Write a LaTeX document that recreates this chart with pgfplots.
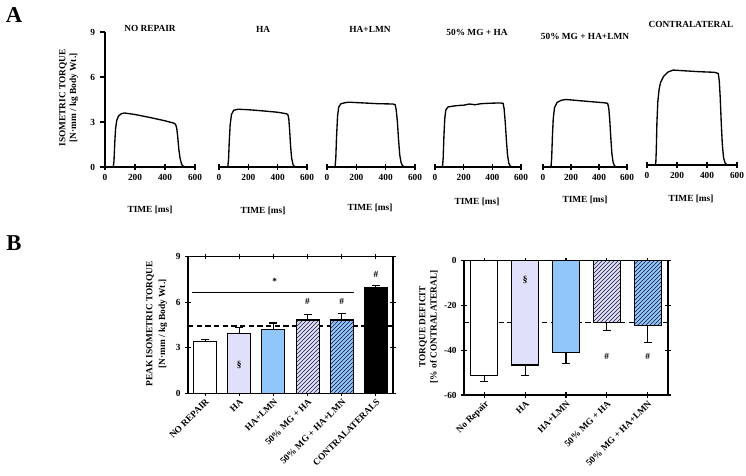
\documentclass[border=0pt]{standalone}
\usepackage{fontspec}
\setmainfont{Liberation Serif}
\usepackage{pgfplots}
\pgfplotsset{compat=1.18}
\usetikzlibrary{patterns}
\definecolor{lav}{RGB}{224,224,250}
\definecolor{lblue}{RGB}{145,198,250}
\definecolor{hatchc}{RGB}{25,25,60}
\newcommand{\lbl}{\bfseries\fontsize{7}{8}\selectfont}
\pgfplotsset{
  trace/.style={
    scale only axis, height=101.25pt,
    xmin=0, xmax=600, ymin=0, ymax=9,
    axis x line=bottom,
    axis line style={-, line width=1pt, black},
    every outer x axis line/.append style={-},
    every outer y axis line/.append style={-},
    xtick={0,200,400,600}, tick align=center, major tick length=4pt,
    every tick/.style={black, line width=0.8pt},
    tick label style={font=\lbl},
    /pgf/number format/assume math mode=true,
    clip=false,
  },
  curve/.style={black, line width=1pt, line join=round, mark=none},
  barax/.style={
    scale only axis,
    axis line style={line width=1pt, black},
    tick align=center, major tick length=4pt,
    every tick/.style={black, line width=0.8pt},
    tick label style={font=\lbl},
    xticklabel style={rotate=45, anchor=north east, inner sep=1pt},
    /pgf/number format/assume math mode=true,
    clip=false,
  },
  errs/.style={draw=none, mark=none, forget plot, error bars/y explicit,
    error bars/error bar style={draw=black, line width=0.8pt},
    error bars/error mark options={draw=black, rotate=90, mark size=3pt, line width=0.8pt}},
}
\begin{document}
\begin{tikzpicture}[x=0.75pt,y=0.75pt]
\path[use as bounding box] (0,0) rectangle (746,475);
\coordinate (A1) at (105,308);
\coordinate (A2) at (219,308);
\coordinate (A3) at (327,308);
\coordinate (A4) at (435,308);
\coordinate (A5) at (543,308);
\coordinate (A6) at (647,310);
\coordinate (B1) at (188,81.7);
\coordinate (B2) at (464,80);
% panel letters
\node[font=\bfseries\fontsize{17}{17}\selectfont] at (14,460) {A};
\node[font=\bfseries\fontsize{17}{17}\selectfont] at (14,232) {B};

% ---------- Panel A ----------
\begin{axis}[trace, width=67.5pt, at={(A1)}, anchor=south west,
  axis y line=left, ytick={0,3,6,9}, ytick align=outside,
  y axis line style={-}, x axis line style={-}]
\addplot[curve] coordinates {(0,0) (55,0) (60,0.4) (65,1.6) (70,2.5) (78,3.1) (90,3.4) (110,3.56) (130,3.6) (200,3.5) (300,3.3) (400,3.08) (460,2.92) (470,2.85) (478,2.6) (485,2.0) (492,1.2) (500,0.6) (510,0.2) (520,0.05) (540,0) (600,0)};
\end{axis}
\begin{axis}[trace, axis y line=none, width=66pt, at={(A2)}, anchor=south west]
\addplot[curve] coordinates {(0,0) (60,0) (65,0.5) (70,1.7) (76,2.8) (85,3.5) (100,3.78) (130,3.85) (200,3.82) (300,3.74) (400,3.65) (460,3.55) (470,3.48) (476,3.2) (482,2.4) (488,1.4) (495,0.6) (505,0.15) (515,0.03) (530,0) (600,0)};
\end{axis}
\begin{axis}[trace, axis y line=none, width=66pt, at={(A3)}, anchor=south west]
\addplot[curve] coordinates {(0,0) (55,0) (60,0.6) (65,2.0) (72,3.4) (80,4.0) (95,4.22) (130,4.3) (150,4.32) (250,4.27) (350,4.22) (450,4.2) (465,4.15) (472,3.8) (480,3.0) (488,1.8) (496,0.8) (505,0.3) (515,0.08) (530,0) (600,0)};
\end{axis}
\begin{axis}[trace, axis y line=none, width=64.5pt, at={(A4)}, anchor=south west]
\addplot[curve] coordinates {(0,0) (52,0) (57,0.6) (62,2.0) (68,3.2) (75,3.8) (90,4.0) (120,4.05) (160,4.1) (200,4.12) (240,4.2) (280,4.15) (320,4.22) (380,4.25) (450,4.27) (475,4.25) (482,3.9) (490,3.0) (498,1.8) (506,0.8) (515,0.25) (525,0.05) (540,0) (600,0)};
\end{axis}
\begin{axis}[trace, axis y line=none, width=63pt, at={(A5)}, anchor=south west]
\addplot[curve] coordinates {(0,0) (57,0) (62,0.6) (67,2.0) (73,3.2) (82,3.95) (100,4.3) (130,4.45) (165,4.5) (250,4.43) (350,4.35) (440,4.28) (462,4.24) (470,3.9) (477,3.1) (484,2.0) (492,0.9) (500,0.35) (510,0.08) (525,0) (600,0)};
\end{axis}
\begin{axis}[trace, axis y line=none, width=67.5pt, at={(A6)}, anchor=south west]
\addplot[curve] coordinates {(0,0) (58,0) (62,1.0) (66,2.8) (72,4.2) (80,5.0) (90,5.5) (110,5.9) (140,6.2) (175,6.33) (250,6.28) (350,6.22) (450,6.18) (475,6.1) (482,5.6) (488,4.5) (495,2.8) (502,1.4) (510,0.5) (520,0.15) (530,0.03) (545,0) (600,0)};
\end{axis}
% titles
\node[font=\lbl] at (150,447) {NO REPAIR};
\node[font=\lbl] at (263,446) {HA};
\node[font=\lbl] at (370,446) {HA+LMN};
\node[font=\lbl] at (477,443) {50\% MG + HA};
\node[font=\lbl] at (585,439) {50\% MG + HA+LMN};
\node[font=\lbl] at (691,451) {CONTRALATERAL};
% x labels
\node[font=\lbl] at (150,265) {TIME [ms]};
\node[font=\lbl] at (263,264) {TIME [ms]};
\node[font=\lbl] at (370,267) {TIME [ms]};
\node[font=\lbl] at (477,273) {TIME [ms]};
\node[font=\lbl] at (585,275) {TIME [ms]};
\node[font=\lbl] at (691,276) {TIME [ms]};
% y label
\node[font=\lbl, rotate=90] at (63,377) {ISOMETRIC TORQUE};
\node[font=\lbl, rotate=90] at (74,377) {[N·mm / kg Body Wt.]};

% ---------- Panel B left ----------
\begin{axis}[barax, at={(B1)}, anchor=south west,
  width=153.75pt, height=102.45pt,
  xmin=-0.5, xmax=5.5, ymin=0, ymax=9,
  ytick={0,3,6,9}, xtick={0,1,2,3,4,5},
  xticklabels={NO REPAIR, HA, HA+LMN, 50\% MG + HA, 50\% MG + HA+LMN, CONTRALATERALS}]
\addplot[black, line width=0.9pt, dash pattern=on 4pt off 2.5pt] coordinates {(-0.5,4.43) (5.5,4.43)};
\addplot[ybar, bar width=17.25pt, bar shift=0pt, draw=black, line width=0.8pt, fill=white] coordinates {(0,3.4)};
\addplot[ybar, bar width=17.25pt, bar shift=0pt, draw=black, line width=0.8pt, fill=lav] coordinates {(1,3.95)};
\addplot[ybar, bar width=17.25pt, bar shift=0pt, draw=black, line width=0.8pt, fill=lblue] coordinates {(2,4.22)};
\addplot[ybar, bar width=17.25pt, bar shift=0pt, draw=black, line width=0.8pt, fill=lav, postaction={pattern=north east lines, pattern color=hatchc}] coordinates {(3,4.83)};
\addplot[ybar, bar width=17.25pt, bar shift=0pt, draw=black, line width=0.8pt, fill=lblue, postaction={pattern=north east lines, pattern color=hatchc}] coordinates {(4,4.83)};
\addplot[ybar, bar width=17.25pt, bar shift=0pt, draw=black, line width=0.8pt, fill=black] coordinates {(5,6.98)};
\addplot[errs, error bars/y dir=plus]
  coordinates {(0,3.4) +- (0,0.15) (1,3.95) +- (0,0.4) (2,4.22) +- (0,0.41) (3,4.83) +- (0,0.35) (4,4.83) +- (0,0.44) (5,6.98) +- (0,0.13)};
\addplot[black, line width=0.8pt] coordinates {(-0.38,6.63) (4.35,6.63)};
\node[font=\lbl] at (axis cs:2.04,7.35) {*};
\node[font=\lbl] at (axis cs:3,6.03) {\#};
\node[font=\lbl] at (axis cs:4,6.03) {\#};
\node[font=\lbl] at (axis cs:5,7.8) {\#};
\node[font=\lbl] at (axis cs:1,1.86) {§};
\end{axis}
\node[font=\lbl, rotate=90] at (150,151) {PEAK ISOMETRIC TORQUE};
\node[font=\lbl, rotate=90] at (163,151) {[N·mm / kg Body Wt.]};

% ---------- Panel B right ----------
\begin{axis}[barax, at={(B2)}, anchor=south west,
  width=153pt, height=100.7pt,
  xmin=-0.5, xmax=4.5, ymin=-60, ymax=0,
  ytick={-60,-40,-20,0}, yticklabels={-60,-40,-20,0}, xtick={0,1,2,3,4},
  xticklabels={No Repair, HA, HA+LMN, 50\% MG + HA, 50\% MG + HA+LMN}]
\addplot[black, line width=0.9pt, dash pattern=on 4pt off 2.5pt] coordinates {(-0.5,-27.5) (4.5,-27.5)};
\addplot[ybar, bar width=20.25pt, bar shift=0pt, draw=black, line width=0.8pt, fill=white] coordinates {(0,-51.3)};
\addplot[ybar, bar width=20.25pt, bar shift=0pt, draw=black, line width=0.8pt, fill=lav] coordinates {(1,-46.6)};
\addplot[ybar, bar width=20.25pt, bar shift=0pt, draw=black, line width=0.8pt, fill=lblue] coordinates {(2,-41.1)};
\addplot[ybar, bar width=20.25pt, bar shift=0pt, draw=black, line width=0.8pt, fill=lav, postaction={pattern=north east lines, pattern color=hatchc}] coordinates {(3,-27.5)};
\addplot[ybar, bar width=20.25pt, bar shift=0pt, draw=black, line width=0.8pt, fill=lblue, postaction={pattern=north east lines, pattern color=hatchc}] coordinates {(4,-28.9)};
\addplot[errs, error bars/y dir=minus]
  coordinates {(0,-51.3) +- (0,2.6) (1,-46.6) +- (0,4.8) (2,-41.1) +- (0,4.7) (3,-27.5) +- (0,3.8) (4,-28.9) +- (0,7.6)};
\node[font=\lbl] at (axis cs:1,-8.6) {§};
\node[font=\lbl] at (axis cs:3,-42.6) {\#};
\node[font=\lbl] at (axis cs:4,-42.6) {\#};
\end{axis}
\node[font=\lbl, rotate=90] at (423,148) {TORQUE DEFICIT};
\node[font=\lbl, rotate=90] at (434,148) {[\% of CONTRALATERAL]};
\end{tikzpicture}
\end{document}
